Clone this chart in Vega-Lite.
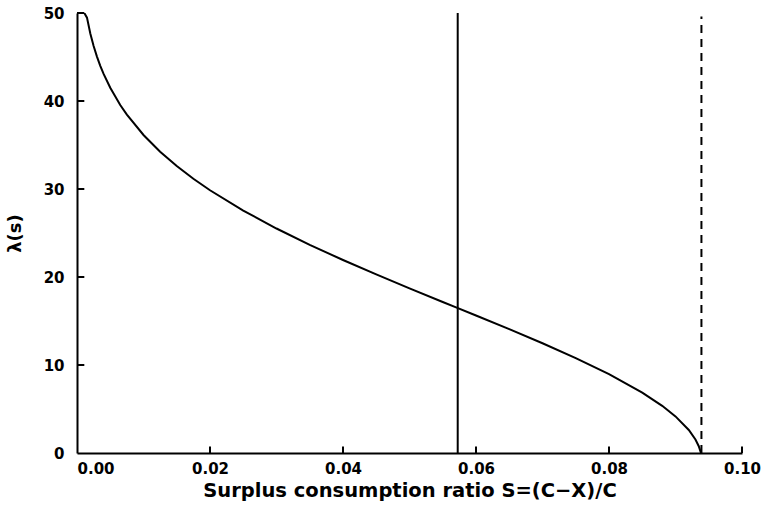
{
  "$schema": "https://vega.github.io/schema/vega-lite/v6.json",
  "width": 665,
  "height": 440,
  "autosize": {"type": "none"},
  "padding": {"left": 77, "top": 13, "right": 25, "bottom": 64},
  "background": "white",
  "config": {
    "view": {"stroke": null},
    "axis": {
      "labelFont": "DejaVu Sans",
      "labelFontWeight": "bold",
      "labelFontSize": 15,
      "labelColor": "black",
      "titleFont": "DejaVu Sans",
      "titleFontWeight": "bold",
      "titleColor": "black",
      "domainColor": "black",
      "domainWidth": 2,
      "ticks": false,
      "grid": false
    }
  },
  "datasets": {
    "curve": [
      {"S": 0.0011, "lambda": 50.0},
      {"S": 0.0015, "lambda": 49.47},
      {"S": 0.002, "lambda": 47.68},
      {"S": 0.0025, "lambda": 46.25},
      {"S": 0.003, "lambda": 45.05},
      {"S": 0.0035, "lambda": 44.0},
      {"S": 0.004, "lambda": 43.08},
      {"S": 0.005, "lambda": 41.5},
      {"S": 0.0065, "lambda": 39.55},
      {"S": 0.0075, "lambda": 38.45},
      {"S": 0.01, "lambda": 36.14},
      {"S": 0.0125, "lambda": 34.24},
      {"S": 0.015, "lambda": 32.61},
      {"S": 0.0175, "lambda": 31.17},
      {"S": 0.02, "lambda": 29.86},
      {"S": 0.025, "lambda": 27.55},
      {"S": 0.03, "lambda": 25.51},
      {"S": 0.035, "lambda": 23.66},
      {"S": 0.04, "lambda": 21.93},
      {"S": 0.045, "lambda": 20.29},
      {"S": 0.05, "lambda": 18.71},
      {"S": 0.055, "lambda": 17.16},
      {"S": 0.057, "lambda": 16.54},
      {"S": 0.06, "lambda": 15.62},
      {"S": 0.065, "lambda": 14.07},
      {"S": 0.07, "lambda": 12.47},
      {"S": 0.075, "lambda": 10.78},
      {"S": 0.08, "lambda": 8.96},
      {"S": 0.085, "lambda": 6.86},
      {"S": 0.088, "lambda": 5.36},
      {"S": 0.09, "lambda": 4.16},
      {"S": 0.092, "lambda": 2.62},
      {"S": 0.093, "lambda": 1.54},
      {"S": 0.0935, "lambda": 0.77},
      {"S": 0.0938, "lambda": 0.08},
      {"S": 0.09385, "lambda": 0.0}
    ],
    "markers": [
      {"S": 0.05725, "kind": "steady"},
      {"S": 0.0939, "kind": "max"}
    ],
    "xticks": [
      {"v": 0.02}, {"v": 0.04}, {"v": 0.06}, {"v": 0.08}, {"v": 0.1}
    ],
    "yticks": [
      {"v": 10}, {"v": 20}, {"v": 30}, {"v": 40}, {"v": 50}
    ]
  },
  "layer": [
    {
      "data": {"name": "curve"},
      "mark": {"type": "line", "color": "black", "strokeWidth": 2, "clip": true},
      "encoding": {
        "x": {
          "field": "S", "type": "quantitative",
          "scale": {"domain": [0, 0.1], "nice": false, "zero": false},
          "axis": {
            "title": "Surplus consumption ratio S=(C−X)/C",
            "titleFontSize": 19.5,
            "titleBaseline": "alphabetic",
            "titleY": 43,
            "values": [0, 0.02, 0.04, 0.06, 0.08, 0.1],
            "format": ".2f",
            "labelPadding": 8,
            "labelAlign": {"condition": {"test": "datum.value == 0", "value": "left"}, "value": "center"}
          }
        },
        "y": {
          "field": "lambda", "type": "quantitative",
          "scale": {"domain": [0, 50], "nice": false},
          "axis": {
            "title": "λ(s)",
            "titleFontSize": 18,
            "values": [0, 10, 20, 30, 40, 50],
            "labelPadding": 13,
            "titlePadding": 19
          }
        }
      }
    },
    {
      "data": {"name": "xticks"},
      "mark": {"type": "rule", "color": "black", "strokeWidth": 2},
      "encoding": {"x": {"field": "v", "type": "quantitative"}, "y": {"datum": 0}, "y2": {"datum": 0.75}}
    },
    {
      "data": {"name": "yticks"},
      "mark": {"type": "rule", "color": "black", "strokeWidth": 2},
      "encoding": {"y": {"field": "v", "type": "quantitative"}, "x": {"datum": 0}, "x2": {"datum": 0.0011}}
    },
    {
      "data": {"name": "markers"},
      "transform": [{"filter": "datum.kind == 'steady'"}],
      "mark": {"type": "rule", "color": "black", "strokeWidth": 2},
      "encoding": {"x": {"field": "S", "type": "quantitative"}}
    },
    {
      "data": {"name": "markers"},
      "transform": [{"filter": "datum.kind == 'max'"}],
      "mark": {"type": "rule", "color": "black", "strokeWidth": 2, "strokeDash": [8, 6]},
      "encoding": {"x": {"field": "S", "type": "quantitative"}, "y": {"datum": 0}, "y2": {"datum": 49.6}}
    }
  ]
}
